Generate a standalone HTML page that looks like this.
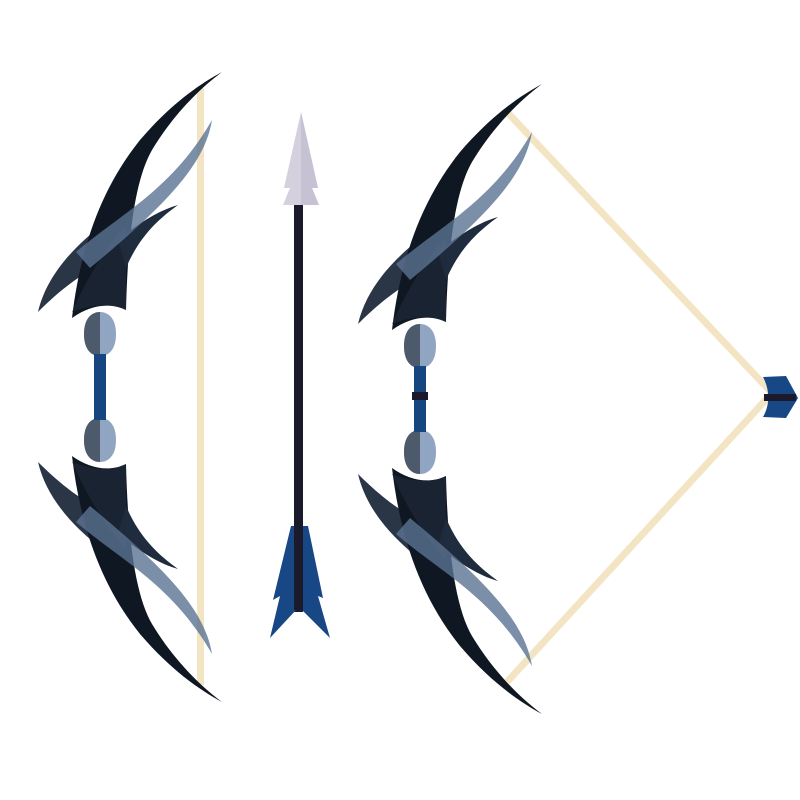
<!DOCTYPE html>
<html><head><meta charset="utf-8"><style>html,body{margin:0;padding:0;background:#fff}svg{display:block}</style></head>
<body>
<svg width="800" height="800" viewBox="0 0 800 800">
<defs>
<g id="limb">
  <path d="M38,312 C46,278 70,250 102,225 L108,262 C82,272 58,292 38,312 Z" fill="#2a3646"/>
  <path d="M72,318 C80,250 100,190 140,140 C170,105 198,85 222,72 C195,92 170,120 152,150 C136,178 128,230 126,310 C110,302 90,305 72,318 Z" fill="#0f1722"/>
  <path d="M118,240 C140,222 160,210 178,205 C160,218 140,235 126,268 Z" fill="#1f2c3d"/>
  <path d="M72,312 C90,272 108,245 126,225 L126,310 C110,302 90,305 72,312 Z" fill="#1f2c3d" opacity="0.6"/>
  <path d="M76,252 C120,214 172,190 212,120 C205,162 172,200 90,268 Z" fill="#5a7392" opacity="0.8"/>
  <path d="M100,312 C108,312 116,318 116,334 C116,348 110,356 100,356 C90,356 84,348 84,334 C84,318 92,312 100,312 Z" fill="#8fa5c2"/>
  <path d="M100,312 C92,312 84,318 84,334 C84,348 90,356 100,356 Z" fill="#4d5a6c"/>
  <rect x="94" y="354" width="12" height="34" fill="#17457f"/>
</g>
<g id="bow">
  <use href="#limb"/>
  <use href="#limb" transform="translate(0,774) scale(1,-1)"/>
</g>
</defs>
<g>
  <rect x="197" y="88" width="7" height="597" fill="#f3e5c4"/>
  <use href="#bow"/>
</g>
<g>
  <rect x="294" y="200" width="9" height="412" fill="#1b1a2c"/>
  <polygon points="301,112 318,188 312,188 319,205 283,205 290,188 284,188" fill="#d4d0de"/>
  <polygon points="301,112 301,205 319,205 312,188 318,188" fill="#c6c2d4"/>
  <polygon points="291,526 308,526 323,598 318,596 330,638 302,610 296,610 270,638 280,596 273,600" fill="#174785"/>
  <rect x="294" y="526" width="9" height="84" fill="#1b1a2c"/>
</g>
<g>
  <polyline points="507,112 772,393 507,682" fill="none" stroke="#f3e5c4" stroke-width="7"/>
  <use href="#bow" transform="translate(320,12)"/>
  <rect x="412" y="392" width="16" height="8" fill="#1b1a2c"/>
  <path d="M763,377 L786,376 L798,398 L786,418 L763,417 C770,405 770,390 763,377 Z" fill="#174785"/>
  <rect x="764" y="394" width="32" height="7" fill="#1b1a2c"/>
</g>
</svg>
</body></html>
